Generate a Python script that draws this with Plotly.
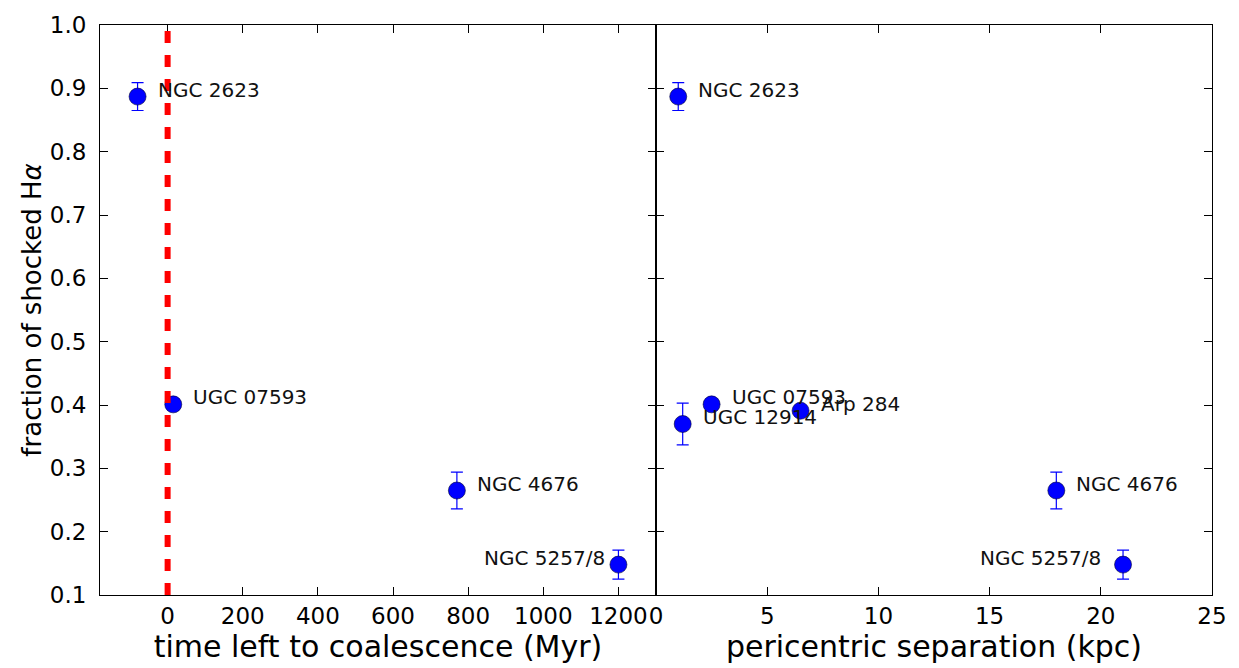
import plotly.graph_objects as go

# Galaxy mergers and their shocked H-alpha fraction
names_time = ["NGC 2623", "UGC 07593", "NGC 4676", "NGC 5257/8"]
time_left_myr = [-80, 15, 770, 1200]
frac_time = [0.887, 0.401, 0.265, 0.148]
err_time = [0.022, 0.0, 0.029, 0.023]

names_peri = ["NGC 2623", "UGC 12914", "UGC 07593", "Arp 284", "NGC 4676", "NGC 5257/8"]
peri_sep_kpc = [1.0, 1.2, 2.5, 6.5, 18.0, 21.0]
frac_peri = [0.887, 0.370, 0.401, 0.391, 0.265, 0.148]
err_peri = [0.022, 0.033, 0.0, 0.0, 0.029, 0.023]

time_ticks = [0, 200, 400, 600, 800, 1000, 1200]
peri_ticks = [0, 5, 10, 15, 20, 25]
y_ticks = [0.1, 0.2, 0.3, 0.4, 0.5, 0.6, 0.7, 0.8, 0.9, 1.0]

FONT = "DejaVu Sans"
BLUE = "#0000ff"

fig = go.Figure()


def add_points(x, y, err, xa, ya):
    fig.add_trace(go.Scatter(
        x=x, y=y, mode="markers", xaxis=xa, yaxis=ya, showlegend=False,
        marker=dict(size=17, color=BLUE, line=dict(width=0.6, color="#000033")),
        error_y=dict(type="data", array=err, visible=True, color=BLUE,
                     thickness=1.2, width=6),
    ))


add_points(time_left_myr, frac_time, err_time, "x", "y")
add_points(peri_sep_kpc, frac_peri, err_peri, "x2", "y2")

# coalescence marker at t = 0
fig.add_shape(type="line", xref="x", yref="y", x0=0, x1=0, y0=0.1, y1=1.0,
              line=dict(color="#ff0000", width=6, dash="12px,12px"), layer="above")


def label(name, x, y, xref, yref, side="right", shift=18):
    fig.add_annotation(
        x=x, y=y, xref=xref, yref=yref, text=name, showarrow=False,
        xanchor="left" if side == "right" else "right",
        yanchor="middle", xshift=shift if side == "right" else -shift, yshift=7,
        font=dict(family=FONT, size=20, color="#111111"),
    )


for n, x, y in zip(names_time, time_left_myr, frac_time):
    if n == "NGC 5257/8":
        label(n, x, y, "x", "y", side="left", shift=11)
    else:
        label(n, x, y, "x", "y")

for n, x, y in zip(names_peri, peri_sep_kpc, frac_peri):
    if n == "NGC 5257/8":
        label(n, x, y, "x2", "y2", side="left", shift=20)
    else:
        label(n, x, y, "x2", "y2")

axis_common = dict(
    showline=True, linecolor="black", linewidth=1, mirror="ticks",
    ticks="inside", ticklen=8, tickwidth=1, tickcolor="black",
    showgrid=False, zeroline=False, ticklabeloverflow="allow",
    tickfont=dict(family=FONT, size=23, color="black"),
)

fig.update_layout(
    width=1239, height=668,
    margin=dict(l=100, r=19, t=18, b=72),
    paper_bgcolor="white", plot_bgcolor="white",
    xaxis=dict(domain=[0, 0.5], range=[-180, 1300], tickvals=time_ticks,
               ticktext=[str(v) for v in time_ticks],
               title=dict(text="time left to coalescence (Myr)",
                          font=dict(family=FONT, size=30, color="black"), standoff=6),
               **axis_common),
    xaxis2=dict(domain=[0.5, 1], range=[0, 25], tickvals=peri_ticks, anchor="y2",
                ticktext=[str(v) for v in peri_ticks],
                title=dict(text="pericentric separation (kpc)",
                           font=dict(family=FONT, size=30, color="black"), standoff=6),
                **axis_common),
    yaxis=dict(range=[0.1, 1.0], tickvals=y_ticks,
               ticktext=[f"{v:.1f}" for v in y_ticks], ticklabelstandoff=8,
               title=dict(text="fraction of shocked H<i>α</i>",
                          font=dict(family=FONT, size=26, color="black"), standoff=0),
               **axis_common),
    yaxis2=dict(range=[0.1, 1.0], tickvals=y_ticks, anchor="x2", matches="y",
                showticklabels=False, **axis_common),
)

fig.write_html("out.html")
